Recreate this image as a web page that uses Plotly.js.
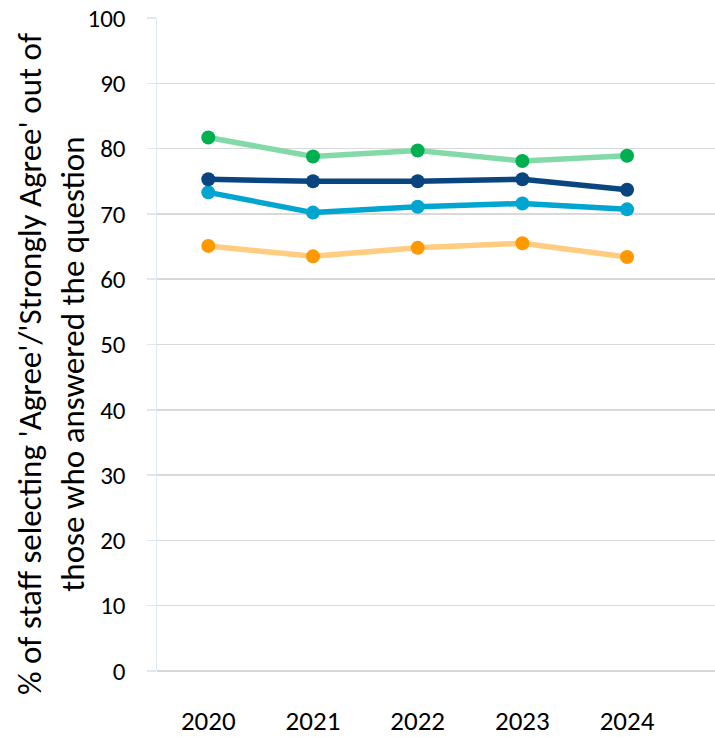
<!DOCTYPE html>
<html>
<head>
<meta charset="utf-8">
<script src="https://cdn.plot.ly/plotly-3.0.1.min.js"></script>
<style>html,body{margin:0;padding:0;background:#fff;}#chart{width:715px;height:737px;}</style>
</head>
<body>
<div id="chart"></div>
<script>
const years = ['2020', '2021', '2022', '2023', '2024'];
const seriesGreen = [81.7, 78.8, 79.7, 78.1, 78.9];
const seriesNavy = [75.3, 75.0, 75.0, 75.3, 73.7];
const seriesBlue = [73.3, 70.2, 71.1, 71.6, 70.7];
const seriesOrange = [65.1, 63.5, 64.8, 65.5, 63.4];
const yTicks = [0, 10, 20, 30, 40, 50, 60, 70, 80, 90, 100];
const yTitle = "% of staff selecting 'Agree'/'Strongly Agree' out of<br>those who answered the question";

function tr(y, lineColor, markerColor) {
  return {
    x: years, y: y, type: 'scatter', mode: 'lines+markers',
    line: {color: lineColor, width: 5.5},
    marker: {color: markerColor, size: 14},
    hoverinfo: 'x+y'
  };
}
const data = [
  tr(seriesOrange, '#ffcc80', '#ff9900'),
  tr(seriesBlue, '#00a5d0', '#00a5d0'),
  tr(seriesNavy, '#0b4580', '#0b4580'),
  tr(seriesGreen, '#84d9a9', '#00b050')
];
const font = 'Carlito, Calibri, Lato, sans-serif';
const layout = {
  width: 715, height: 737,
  margin: {l: 157, r: 0, t: 18, b: 66},
  paper_bgcolor: '#fff', plot_bgcolor: '#fff',
  showlegend: false,
  font: {family: font, size: 25, color: '#000'},
  xaxis: {
    type: 'category', range: [-0.49, 4.84],
    showgrid: false, zeroline: false, showline: false,
    ticks: '', ticklabelstandoff: 31,
    tickfont: {family: font, size: 27, color: '#000'}
  },
  yaxis: {
    range: [0, 100], tickvals: yTicks,
    showgrid: true, gridcolor: '#d9d9d9', gridwidth: 1.5,
    zeroline: true, zerolinecolor: '#d9d9d9', zerolinewidth: 1.5,
    showline: true, linecolor: '#dce9f5', linewidth: 1.5,
    ticks: 'outside', ticklen: 9, tickcolor: '#dce9f5', tickwidth: 1.5,
    ticklabelstandoff: 16,
    tickfont: {family: font, size: 25, color: '#000'}
  },
  annotations: [{
    text: yTitle, textangle: -90, showarrow: false,
    xref: 'paper', yref: 'paper', x: (51 - 157) / 558, y: 0.470,
    xanchor: 'center', yanchor: 'middle', align: 'center',
    font: {family: font, size: 33, color: '#000'}
  }]
};
Plotly.newPlot('chart', data, layout, {displayModeBar: false, staticPlot: true});
</script>
</body>
</html>
